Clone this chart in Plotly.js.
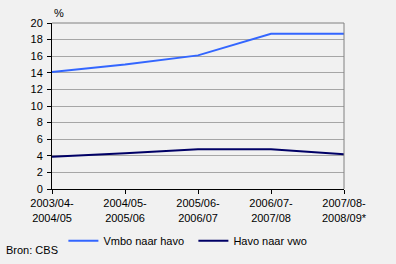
<!DOCTYPE html>
<html><head><meta charset="utf-8">
<script src="https://cdn.plot.ly/plotly-3.0.1.min.js"></script>
<style>html,body{margin:0;padding:0;background:#f1f1f1;}#c{width:396px;height:264px;}</style>
</head><body><div id="c"></div>
<script>
const categories = ["2003/04-<br>2004/05","2004/05-<br>2005/06","2005/06-<br>2006/07","2006/07-<br>2007/08","2007/08-<br>2008/09*"];
const vmboNaarHavo = [14.1, 15.0, 16.1, 18.7, 18.7];
const havoNaarVwo = [3.9, 4.3, 4.8, 4.8, 4.2];
const yTicks = [0,2,4,6,8,10,12,14,16,18,20];
const xIdx = categories.map((_, i) => i);
const font = {family: "Liberation Sans, Arial, sans-serif", size: 11, color: "#000"};
const traces = [
  {x: xIdx, y: vmboNaarHavo, type: "scatter", mode: "lines", name: "Vmbo naar havo", line: {color: "#3366ff", width: 2}},
  {x: xIdx, y: havoNaarVwo, type: "scatter", mode: "lines", name: "Havo naar vwo", line: {color: "#000066", width: 2}}
];
const layout = {
  width: 396, height: 264,
  margin: {l: 52, r: 52, t: 23, b: 75, autoexpand: false},
  paper_bgcolor: "#f1f1f1", plot_bgcolor: "#f1f1f1",
  font: font,
  showlegend: true,
  legend: {orientation: "h", x: 0.039, y: -0.225, xanchor: "left", yanchor: "top", bgcolor: "rgba(0,0,0,0)", font: font, entrywidth: 85, entrywidthmode: "pixels", itemwidth: 30, tracegroupgap: 0},
  xaxis: {range: [0, 4], tickvals: xIdx, ticktext: categories, showgrid: false, zeroline: false, showline: true, linecolor: "#000", linewidth: 1, ticks: "outside", ticklen: 4, tickcolor: "#000", tickangle: 0, fixedrange: true},
  yaxis: {range: [0, 20], tickvals: yTicks, showgrid: true, gridcolor: "#a6a6a6", gridwidth: 1, zeroline: false, showline: true, linecolor: "#000", linewidth: 1, ticks: "outside", ticklen: 4, tickcolor: "#000", ticklabelstandoff: 2, fixedrange: true},
  shapes: [
    {type: "line", xref: "paper", yref: "paper", x0: 0, x1: 1, y0: 1, y1: 1, line: {color: "#808080", width: 1}},
    {type: "line", xref: "paper", yref: "paper", x0: 1, x1: 1, y0: 0, y1: 1, line: {color: "#808080", width: 1}}
  ],
  annotations: [
    {text: "%", xref: "paper", yref: "paper", x: 0, y: 1, xanchor: "left", yanchor: "bottom", yshift: 2, showarrow: false, font: font},
    {text: "Bron: CBS", xref: "paper", yref: "paper", x: -52/292, y: -(250-189)/166, xanchor: "left", yanchor: "middle", xshift: 4, showarrow: false, font: font}
  ]
};
Plotly.newPlot("c", traces, layout, {staticPlot: true, displayModeBar: false});
</script>
</body></html>
